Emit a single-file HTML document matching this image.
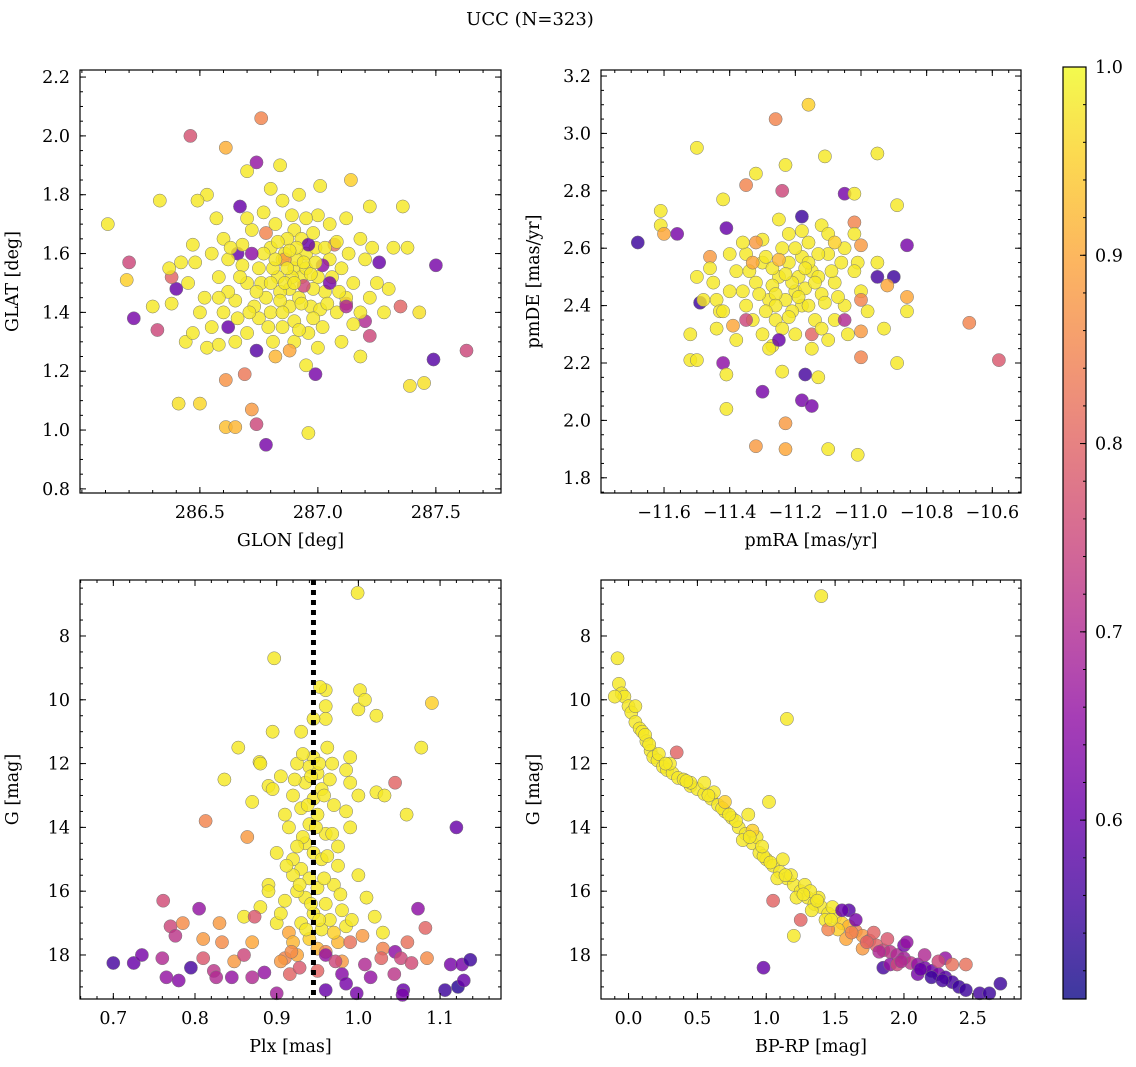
<!DOCTYPE html>
<html><head><meta charset="utf-8">
<style>
html,body{margin:0;padding:0;background:#fff;}
svg{display:block;font-family:"DejaVu Serif","Liberation Serif",serif;}
</style></head>
<body>
<svg id="fig" width="1136" height="1067" viewBox="0 0 1136 1067">
<text x="530" y="25" text-anchor="middle" font-size="18">UCC (N=323)</text>
</svg>
<script>
// ---- data (value, value, membership probability) ----
const glonGlatStars = [
[286.46,2.00,0.77],[286.76,2.06,0.85],[286.61,1.96,0.91],[286.74,1.91,0.66],[286.84,1.90,0.98],[286.70,1.88,0.98],
[286.33,1.78,0.98],[286.11,1.70,0.98],[286.20,1.57,0.75],[286.19,1.51,0.95],[286.22,1.38,0.62],[286.32,1.34,0.75],
[286.41,1.09,0.97],[286.50,1.09,0.96],[286.61,1.17,0.87],[286.69,1.19,0.83],[286.72,1.07,0.88],[286.74,1.02,0.75],
[286.78,0.95,0.62],[286.61,1.01,0.93],[286.65,1.01,0.92],[286.96,0.99,0.98],[286.99,1.19,0.62],[286.74,1.27,0.58],
[286.82,1.25,0.92],[287.63,1.27,0.75],[287.50,1.56,0.62],[287.49,1.24,0.58],[287.39,1.15,0.97],[287.45,1.16,0.97],
[287.43,1.40,0.97],[287.35,1.42,0.80],[287.36,1.76,0.98],[287.38,1.62,0.98],[287.32,1.62,0.98],[287.14,1.85,0.95],
[287.00,1.73,0.98],[287.01,1.83,0.98],[286.53,1.80,0.98],[286.49,1.78,0.98],[286.40,1.48,0.60],[286.38,1.52,0.80],
[286.37,1.55,0.98],[286.38,1.43,0.98],[286.44,1.30,0.98],[286.47,1.33,0.98],[286.30,1.42,0.98],[286.67,1.76,0.60],
[286.66,1.60,0.60],[287.22,1.76,0.98],[287.26,1.57,0.60],[287.20,1.37,0.70],[287.18,1.25,0.98],[287.22,1.32,0.75],
[287.12,1.43,0.75],[287.07,1.63,0.82],[287.12,1.72,0.98],
[286.80,1.62,0.98],[286.85,1.58,0.98],[286.90,1.55,0.98],[286.95,1.60,0.98],[287.00,1.52,0.98],[286.88,1.48,0.98],
[286.92,1.45,0.98],[286.97,1.42,0.98],[287.03,1.47,0.98],[286.83,1.52,0.98],[286.78,1.45,0.98],[286.75,1.55,0.98],
[286.70,1.50,0.98],[286.65,1.44,0.98],[286.60,1.40,0.98],[286.58,1.52,0.98],[286.62,1.58,0.98],[286.68,1.63,0.98],
[286.72,1.68,0.98],[286.82,1.70,0.98],[286.90,1.68,0.98],[286.95,1.72,0.98],[286.87,1.65,0.98],[286.93,1.65,0.98],
[287.05,1.58,0.98],[287.10,1.55,0.98],[287.15,1.50,0.98],[287.12,1.45,0.98],[287.08,1.40,0.98],[287.02,1.35,0.98],
[286.96,1.33,0.98],[286.90,1.37,0.98],[286.85,1.35,0.98],[286.80,1.40,0.98],[286.75,1.38,0.98],[286.70,1.33,0.98],
[286.65,1.30,0.98],[286.55,1.35,0.98],[286.52,1.45,0.98],[286.45,1.50,0.98],[286.48,1.57,0.98],[286.55,1.60,0.98],
[286.60,1.65,0.98],[286.57,1.72,0.98],[286.85,1.78,0.98],[286.80,1.82,0.98],[286.92,1.80,0.98],[287.05,1.70,0.98],
[287.18,1.65,0.98],[287.20,1.58,0.98],[287.25,1.50,0.98],[287.22,1.45,0.98],[287.28,1.40,0.98],[287.18,1.40,0.98],
[287.10,1.30,0.98],[287.00,1.28,0.98],[286.95,1.22,0.98],[286.90,1.30,0.98],[286.88,1.42,0.98],[286.98,1.48,0.98],
[286.93,1.52,0.98],[286.86,1.60,0.98],[286.99,1.62,0.98],[286.77,1.60,0.98],[286.73,1.42,0.98],[286.68,1.56,0.98],
[287.06,1.52,0.98],[287.13,1.60,0.98],[286.62,1.47,0.98],[286.53,1.28,0.98],[286.84,1.47,0.98],[286.91,1.58,0.98],
[287.01,1.41,0.98],[286.95,1.55,0.98],[286.81,1.55,0.98],[286.89,1.52,0.98],[286.76,1.50,0.98],[286.98,1.38,0.98],
[286.70,1.72,0.98],[287.08,1.64,0.98],
[286.96,1.63,0.60],[287.05,1.50,0.62],[286.72,1.60,0.65],[286.88,1.27,0.90],[287.12,1.42,0.70],[286.62,1.35,0.60],
[286.94,1.49,0.75],[286.78,1.67,0.85],[286.86,1.58,0.88],[287.02,1.56,0.65],
[286.83,1.64,0.98],[286.87,1.55,0.98],[286.91,1.62,0.98],[286.94,1.57,0.98],[286.97,1.53,0.98],[286.99,1.57,0.98],
[286.86,1.50,0.98],[286.90,1.50,0.98],[286.84,1.44,0.98],[286.80,1.50,0.98],[286.82,1.58,0.98],[286.88,1.61,0.98],
[286.93,1.43,0.98],[287.04,1.43,0.98],[286.79,1.35,0.98],[286.74,1.47,0.98],[286.67,1.52,0.98],[286.63,1.62,0.98],
[286.71,1.40,0.98],[286.89,1.73,0.98],[286.77,1.74,0.98],[286.58,1.45,0.98],[286.50,1.40,0.98],[286.42,1.57,0.98],
[287.09,1.47,0.98],[287.15,1.36,0.98],[287.23,1.62,0.98],[286.98,1.67,0.98],[286.85,1.40,0.98],[286.92,1.34,0.98],
[286.66,1.38,0.98],[286.58,1.29,0.98],[287.30,1.48,0.98],[286.47,1.63,0.98],[286.81,1.30,0.98],[287.03,1.62,0.98]
];
const pmStars = [
[-11.68,2.62,0.55],[-11.61,2.73,0.98],[-11.61,2.68,0.98],[-11.60,2.65,0.90],[-11.56,2.65,0.62],[-11.50,2.95,0.98],
[-11.52,2.30,0.98],[-11.52,2.21,0.98],[-11.50,2.21,0.98],[-11.49,2.41,0.55],[-11.46,2.57,0.88],[-11.44,2.42,0.98],
[-11.43,2.38,0.98],[-11.42,2.77,0.98],[-11.41,2.67,0.60],[-11.42,2.20,0.65],[-11.41,2.16,0.98],[-11.41,2.04,0.98],
[-11.30,2.10,0.62],[-11.35,2.82,0.85],[-11.32,2.86,0.98],[-11.32,1.91,0.88],[-11.26,3.05,0.85],[-11.23,1.90,0.90],
[-11.23,1.99,0.88],[-11.24,2.17,0.98],[-11.27,2.26,0.98],[-11.23,2.89,0.98],[-11.24,2.80,0.75],[-11.18,2.71,0.55],
[-11.17,2.16,0.56],[-11.18,2.07,0.62],[-11.15,2.05,0.62],[-11.13,2.15,0.98],[-11.16,3.10,0.95],[-11.11,2.92,0.98],
[-11.10,1.90,0.98],[-11.01,1.88,0.98],[-10.95,2.93,0.98],[-11.05,2.79,0.62],[-11.02,2.79,0.98],[-11.02,2.69,0.85],
[-10.89,2.75,0.98],[-10.86,2.61,0.62],[-10.95,2.50,0.56],[-10.90,2.50,0.55],[-10.86,2.43,0.90],[-10.92,2.47,0.90],
[-10.86,2.38,0.98],[-10.93,2.32,0.98],[-10.89,2.20,0.98],[-11.00,2.31,0.88],[-11.00,2.22,0.85],[-10.67,2.34,0.85],
[-10.58,2.21,0.78],[-11.01,2.55,0.98],[-11.00,2.61,0.88],
[-11.20,2.45,0.98],[-11.25,2.50,0.98],[-11.15,2.52,0.98],[-11.22,2.55,0.98],[-11.18,2.40,0.98],[-11.28,2.42,0.98],
[-11.12,2.44,0.98],[-11.30,2.55,0.98],[-11.10,2.58,0.98],[-11.24,2.60,0.98],[-11.16,2.62,0.98],[-11.08,2.48,0.98],
[-11.32,2.48,0.98],[-11.35,2.40,0.98],[-11.26,2.35,0.98],[-11.14,2.35,0.98],[-11.05,2.40,0.98],[-11.02,2.52,0.98],
[-11.38,2.52,0.98],[-11.40,2.45,0.98],[-11.20,2.30,0.98],[-11.30,2.30,0.98],[-11.10,2.28,0.98],[-11.22,2.65,0.98],
[-11.30,2.63,0.98],[-11.12,2.68,0.98],[-11.05,2.60,0.98],[-11.00,2.45,0.98],[-10.98,2.38,0.98],[-11.45,2.48,0.98],
[-11.42,2.38,0.98],[-11.35,2.58,0.98],[-11.25,2.70,0.98],[-11.18,2.57,0.98],[-11.27,2.47,0.98],[-11.13,2.50,0.98],
[-11.19,2.50,0.98],[-11.23,2.42,0.98],[-11.17,2.46,0.98],[-11.33,2.35,0.98],[-11.08,2.35,0.98],[-11.04,2.30,0.98],
[-11.38,2.28,0.98],[-11.28,2.25,0.98],[-11.15,2.25,0.98],[-11.50,2.50,0.98],[-11.48,2.42,0.98],[-11.40,2.58,0.98],
[-11.10,2.65,0.98],[-10.95,2.55,0.98],[-11.21,2.38,0.98],[-11.29,2.57,0.98],[-11.11,2.41,0.98],[-11.26,2.44,0.98],
[-11.16,2.55,0.98],[-11.36,2.45,0.98],[-11.06,2.55,0.98],[-11.44,2.32,0.98],[-11.24,2.32,0.98],[-11.02,2.65,0.98],
[-11.35,2.35,0.75],[-11.25,2.28,0.60],[-11.05,2.35,0.70],[-11.15,2.30,0.80],[-11.32,2.62,0.88],[-11.00,2.42,0.85],
[-11.21,2.48,0.98],[-11.17,2.53,0.98],[-11.23,2.51,0.98],[-11.14,2.48,0.98],[-11.19,2.43,0.98],[-11.26,2.40,0.98],
[-11.20,2.60,0.98],[-11.13,2.58,0.98],[-11.27,2.53,0.98],[-11.09,2.52,0.98],[-11.31,2.44,0.98],[-11.22,2.36,0.98],
[-11.16,2.40,0.98],[-11.12,2.32,0.98],[-11.34,2.52,0.98],[-11.18,2.66,0.98],[-11.07,2.43,0.98],[-11.29,2.38,0.98],
[-11.39,2.33,0.90],[-11.33,2.55,0.90],[-11.08,2.62,0.95],[-11.25,2.56,0.92],[-11.46,2.53,0.98],[-11.36,2.62,0.98]
];
const plxGStars = [
[0.999,6.65,0.98],[0.897,8.70,0.98],[1.090,10.1,0.95],[1.002,9.7,0.98],[1.000,10.3,0.98],[1.008,10.0,0.98],
[1.022,10.5,0.98],[0.853,11.5,0.98],[0.895,11.0,0.98],[1.077,11.5,0.98],[0.879,11.95,0.98],[0.836,12.5,0.98],
[0.890,12.7,0.98],[1.045,12.6,0.80],[1.022,12.9,0.98],[1.032,13.0,0.98],[1.059,13.6,0.98],[1.120,14.0,0.60],
[0.813,13.8,0.85],[0.864,14.3,0.88],
[0.945,11.8,0.98],[0.94,12.1,0.98],[0.95,12.3,0.98],[0.935,12.6,0.98],[0.955,12.8,0.98],[0.945,13.1,0.98],
[0.93,13.4,0.98],[0.95,13.6,0.98],[0.94,13.9,0.98],[0.96,14.2,0.98],[0.935,14.5,0.98],[0.945,14.8,0.98],
[0.955,15.0,0.98],[0.93,15.3,0.98],[0.94,15.6,0.98],[0.95,15.9,0.98],[0.935,16.2,0.98],[0.96,16.4,0.98],
[0.945,16.7,0.98],[0.93,17.0,0.98],[0.955,17.2,0.98],[0.94,17.5,0.95],[0.95,17.8,0.92],[0.925,12.0,0.98],
[0.965,12.5,0.98],[0.92,13.0,0.98],[0.97,13.3,0.98],[0.915,14.0,0.98],[0.975,14.6,0.98],[0.92,15.5,0.98],
[0.97,15.8,0.98],[0.91,16.3,0.98],[0.98,16.6,0.98],[0.90,17.0,0.98],[0.985,17.1,0.98],[0.905,12.4,0.98],
[0.985,12.2,0.98],[0.90,14.8,0.98],[0.99,14.0,0.98],[0.89,15.8,0.98],[1.00,15.5,0.98],[0.88,16.5,0.98],
[1.01,16.2,0.98],[0.87,13.2,0.98],[1.00,13.0,0.98],[0.88,12.0,0.98],[0.99,11.8,0.98],[0.96,10.6,0.98],
[0.93,11.0,0.98],[0.89,16.0,0.98],[1.02,16.8,0.98],[0.86,16.8,0.98],[1.03,17.3,0.98],[0.87,17.6,0.90],
[0.96,17.9,0.85],[0.91,18.1,0.85],[0.98,18.2,0.88],[0.95,18.5,0.80],[0.92,15.0,0.98],[0.975,15.2,0.98],
[0.91,13.6,0.98],[0.985,13.5,0.98],[0.895,12.8,0.98],[0.99,12.6,0.98],[0.96,9.7,0.98],[0.953,9.6,0.98],
[0.96,10.2,0.98],[0.945,10.6,0.98],[0.925,16.0,0.98],[0.965,16.9,0.98],[0.915,17.3,0.90],[0.975,17.6,0.92],
[0.942,12.4,0.98],[0.952,12.0,0.98],[0.938,13.3,0.98],[0.958,13.0,0.98],[0.948,14.0,0.98],[0.932,14.3,0.98],
[0.962,14.9,0.98],[0.928,15.8,0.98],[0.958,15.6,0.98],[0.942,16.4,0.98],[0.952,16.9,0.98],[0.936,17.2,0.98],
[0.968,12.0,0.98],[0.922,12.5,0.98],[0.925,14.6,0.98],[0.968,14.2,0.98],[0.912,15.2,0.98],[0.978,16.1,0.98],
[0.905,16.7,0.98],[0.992,16.9,0.98],[0.962,11.5,0.98],[0.932,11.7,0.98],[0.97,17.3,0.95],[0.92,17.6,0.92],
[0.700,18.25,0.56],[0.725,18.25,0.60],[0.735,18.0,0.62],[0.760,18.1,0.70],[0.761,16.3,0.76],[0.770,17.1,0.75],
[0.776,17.4,0.72],[0.765,18.7,0.66],[0.780,18.8,0.64],[0.795,18.4,0.56],[0.785,17.0,0.86],[0.805,16.55,0.66],
[0.810,17.5,0.88],[0.810,18.1,0.78],[0.823,18.5,0.72],[0.826,18.7,0.70],[0.845,18.7,0.66],[0.830,17.0,0.88],
[0.870,18.7,0.70],[0.885,18.55,0.66],[0.900,19.2,0.68],[0.905,18.2,0.88],[0.873,16.8,0.78],[0.916,18.6,0.80],
[0.925,18.0,0.90],[0.918,17.9,0.86],[0.928,18.4,0.78],[0.960,18.0,0.66],[0.972,18.2,0.75],[0.980,18.6,0.64],
[0.960,19.1,0.60],[0.998,19.2,0.62],[0.985,18.9,0.62],[1.005,17.4,0.88],[1.030,17.8,0.85],[1.028,18.1,0.80],
[1.045,17.9,0.65],[1.052,18.1,0.75],[1.044,18.6,0.72],[1.065,18.25,0.76],[1.084,18.1,0.86],[1.073,16.55,0.65],
[1.082,17.15,0.80],[1.055,19.1,0.60],[1.054,19.25,0.62],[1.106,19.1,0.55],[1.122,19.0,0.53],[1.113,18.3,0.62],
[1.127,18.3,0.62],[1.137,18.15,0.55],[1.129,18.8,0.60],[1.008,18.3,0.70],[0.990,17.6,0.82],[0.848,18.2,0.88],
[0.833,17.6,0.86],[0.860,18.0,0.75],[1.015,18.7,0.66],[1.060,17.6,0.82]
];
const cmdStars = [
[1.40,6.75,0.98],[-0.08,8.7,0.98],[-0.07,9.5,0.98],[-0.05,9.8,0.98],[-0.03,9.9,0.98],[0.00,10.2,0.98],
[0.02,10.4,0.98],[0.05,10.7,0.98],[0.08,10.9,0.98],[0.10,11.0,0.98],[0.13,11.3,0.98],[0.16,11.6,0.98],
[0.18,11.8,0.98],[0.21,11.9,0.98],[0.25,12.1,0.98],[0.28,12.2,0.98],[0.32,12.3,0.98],[0.36,12.45,0.98],
[0.40,12.5,0.98],[0.45,12.7,0.98],[0.50,12.8,0.98],[0.55,12.95,0.98],[0.60,13.1,0.98],[0.65,13.3,0.98],
[0.70,13.5,0.98],[0.75,13.7,0.98],[0.80,14.0,0.98],[0.85,14.2,0.98],[0.90,14.5,0.98],[0.95,14.8,0.98],
[1.00,15.0,0.98],[1.05,15.2,0.98],[1.10,15.4,0.98],[1.15,15.6,0.98],[1.20,15.8,0.98],[1.25,16.0,0.98],
[1.30,16.2,0.98],[1.35,16.4,0.98],[1.40,16.5,0.98],[1.45,16.7,0.98],[1.50,16.8,0.98],[1.55,17.0,0.95],
[1.60,17.1,0.92],[1.65,17.25,0.85],[1.70,17.4,0.88],[1.75,17.55,0.80],[1.80,17.7,0.80],[1.85,17.85,0.75],
[1.90,17.9,0.72],[1.95,18.0,0.70],[2.00,18.1,0.68],[2.05,18.25,0.72],[2.10,18.3,0.66],[2.15,18.4,0.62],
[2.20,18.5,0.60],[2.25,18.6,0.62],[2.30,18.7,0.58],[2.35,18.85,0.56],[2.40,19.0,0.55],[2.45,19.1,0.55],
[2.55,19.2,0.56],[2.62,19.2,0.55],[2.70,18.9,0.55],[2.45,18.3,0.82],[2.30,18.1,0.66],[2.20,18.7,0.55],
[2.00,17.7,0.62],[1.85,18.4,0.56],[1.60,16.6,0.58],[1.65,16.9,0.62],[1.90,18.3,0.66],[2.10,18.6,0.62],
[-0.10,9.9,0.98],[0.05,10.2,0.98],[0.12,11.1,0.98],[0.22,11.7,0.98],[0.30,12.0,0.98],[0.35,11.65,0.80],
[0.45,12.6,0.98],[0.55,12.6,0.98],[0.62,12.9,0.98],[0.68,13.4,0.98],[0.78,13.8,0.98],[0.83,14.4,0.98],
[0.87,13.6,0.98],[0.93,14.3,0.98],[0.98,14.9,0.98],[1.02,13.2,0.98],[1.15,10.6,0.98],[1.08,15.6,0.98],
[1.18,15.5,0.98],[1.22,16.2,0.98],[1.28,15.8,0.98],[1.33,16.6,0.98],[1.38,16.2,0.98],[1.43,16.9,0.98],
[1.48,16.5,0.98],[1.52,17.2,0.95],[1.20,17.4,0.98],[0.98,18.4,0.60],[1.05,16.3,0.80],[1.25,16.9,0.80],
[1.45,17.2,0.85],[1.58,17.5,0.90],[1.70,17.8,0.88],[1.78,17.3,0.80],[1.88,17.5,0.78],[1.95,18.3,0.75],
[2.02,17.6,0.66],[2.15,18.0,0.70],[2.25,18.2,0.75],[2.35,18.3,0.82],[0.70,13.2,0.95],[0.90,14.1,0.95],
[1.12,15.0,0.98],[1.32,16.0,0.98],[1.55,16.6,0.60],
[0.15,11.4,0.98],[0.27,12.0,0.98],[0.42,12.55,0.98],[0.58,13.0,0.98],[0.73,13.6,0.98],[0.88,14.3,0.98],
[0.97,14.6,0.98],[1.03,15.1,0.98],[1.14,15.5,0.98],[1.27,16.1,0.98],[1.37,16.3,0.98],[1.47,16.9,0.98],
[1.62,17.3,0.85],[1.73,17.6,0.80],[1.82,17.9,0.70],[1.98,18.2,0.70],[2.12,18.45,0.60],[2.28,18.8,0.56]
];
const cbarTicks = [0.6,0.7,0.8,0.9,1.0];
const cbarTickLabels = ["0.6","0.7","0.8","0.9","1.0"];

// ---- rendering ----
const NS = "http://www.w3.org/2000/svg";
const svg = document.getElementById('fig');
const CMIN = 0.505, CMAX = 1.0;
const plasma = ["#0d0887","#41049d","#6a00a8","#8f0da4","#b12a90","#cc4778","#e16462","#f2844b","#fca636","#fcce25","#f0f921"];
function hex(h){return [parseInt(h.substr(1,2),16),parseInt(h.substr(3,2),16),parseInt(h.substr(5,2),16)];}
function cmap(v){
  let t=(v-CMIN)/(CMAX-CMIN); t=Math.max(0,Math.min(1,t));
  const f=t*10, i=Math.min(9,Math.floor(f)), r=f-i;
  const a=hex(plasma[i]), b=hex(plasma[i+1]);
  return "rgb("+a.map((x,k)=>Math.round(x+(b[k]-x)*r)).join(",")+")";
}
function mk(tag, attrs, parent){
  const e=document.createElementNS(NS,tag);
  for(const k in attrs) e.setAttribute(k,attrs[k]);
  (parent||svg).appendChild(e); return e;
}
function fmt(v,d){return (v<0?"\u2212":"")+Math.abs(v).toFixed(d);}
const FS = 17.5;

const panels = [
 {name:"sky", data:glonGlatStars, px:[80,501], py:[70,493], xd:[285.992,287.776], yd:[2.224,0.786],
  xMaj:[286.5,287.0,287.5], xMin:0.1, xDec:1, yMaj:[0.8,1.0,1.2,1.4,1.6,1.8,2.0,2.2], yMin:0.05, yDec:1,
  xl:"GLON [deg]", yl:"GLAT [deg]"},
 {name:"proper-motion", data:pmStars, px:[601,1021], py:[70,493], xd:[-11.792,-10.5126], yd:[3.221,1.747],
  xMaj:[-11.6,-11.4,-11.2,-11.0,-10.8,-10.6], xMin:0.05, xDec:1, yMaj:[1.8,2.0,2.2,2.4,2.6,2.8,3.0,3.2], yMin:0.05, yDec:1,
  xl:"pmRA [mas/yr]", yl:"pmDE [mas/yr]"},
 {name:"parallax-magnitude", data:plxGStars, px:[80,501], py:[580,999], xd:[0.6592,1.1746], yd:[6.245,19.38],
  xMaj:[0.7,0.8,0.9,1.0,1.1], xMin:0.02, xDec:1, yMaj:[8,10,12,14,16,18], yMin:0.5, yDec:0,
  xl:"Plx [mas]", yl:"G [mag]", vline:0.945},
 {name:"color-magnitude", data:cmdStars, px:[601,1021], py:[580,999], xd:[-0.2, 2.8499], yd:[6.245,19.38],
  xMaj:[0.0,0.5,1.0,1.5,2.0,2.5], xMin:0.1, xDec:1, yMaj:[8,10,12,14,16,18], yMin:0.5, yDec:0,
  xl:"BP-RP [mag]", yl:"G [mag]"}
];

panels.forEach(p=>{
  const sx=v=>p.px[0]+(v-p.xd[0])/(p.xd[1]-p.xd[0])*(p.px[1]-p.px[0]);
  const sy=v=>p.py[0]+(v-p.yd[0])/(p.yd[1]-p.yd[0])*(p.py[1]-p.py[0]);
  const g=mk('g',{});
  
  
  const pts=mk('g',{},g);
  
  
  p.data.forEach(d=>{
    const x=sx(d[0]), y=sy(d[1]);
    if(x<p.px[0]||x>p.px[1]||y<p.py[0]||y>p.py[1]) return;
    const c=mk('circle',{cx:x.toFixed(1),cy:y.toFixed(1),r:6.6,fill:cmap(d[2]),'fill-opacity':0.82,stroke:'#777','stroke-width':0.5},pts);
    
    
  });
  if(p.vline!==undefined){
    const l=mk('line',{x1:sx(p.vline),x2:sx(p.vline),y1:p.py[0],y2:p.py[1],stroke:'#000','stroke-width':5,'stroke-dasharray':'5,5'},g);
    
    
  }
  const fr=mk('rect',{x:p.px[0],y:p.py[0],width:p.px[1]-p.px[0],height:p.py[1]-p.py[0],fill:'none',stroke:'#000','stroke-width':1.2},g);
  
  
  const tk=mk('g',{stroke:'#000','stroke-width':1},g);
  const xlo=Math.min(...p.xd), xhi=Math.max(...p.xd);
  for(let v=Math.ceil(xlo/p.xMin)*p.xMin; v<=xhi; v+=p.xMin){
    const x=sx(v); mk('line',{x1:x,x2:x,y1:p.py[1],y2:p.py[1]-3},tk); mk('line',{x1:x,x2:x,y1:p.py[0],y2:p.py[0]+3},tk);
  }
  p.xMaj.forEach(v=>{
    const x=sx(v); mk('line',{x1:x,x2:x,y1:p.py[1],y2:p.py[1]-6},tk); mk('line',{x1:x,x2:x,y1:p.py[0],y2:p.py[0]+6},tk);
    const t=mk('text',{x:x,y:p.py[1]+25,'text-anchor':'middle','font-size':FS},g); t.textContent=fmt(v,p.xDec);
    
    
  });
  const ylo=Math.min(...p.yd), yhi=Math.max(...p.yd);
  for(let v=Math.ceil(ylo/p.yMin)*p.yMin; v<=yhi; v+=p.yMin){
    const y=sy(v); mk('line',{x1:p.px[0],x2:p.px[0]+3,y1:y,y2:y},tk); mk('line',{x1:p.px[1],x2:p.px[1]-3,y1:y,y2:y},tk);
  }
  p.yMaj.forEach(v=>{
    const y=sy(v); if(y<p.py[0]-1||y>p.py[1]+1) return;
    mk('line',{x1:p.px[0],x2:p.px[0]+6,y1:y,y2:y},tk); mk('line',{x1:p.px[1],x2:p.px[1]-6,y1:y,y2:y},tk);
    const t=mk('text',{x:p.px[0]-10,y:y+6,'text-anchor':'end','font-size':FS},g); t.textContent=fmt(v,p.yDec);
    
    
  });
  const xt=mk('text',{x:(p.px[0]+p.px[1])/2,y:p.py[1]+53,'text-anchor':'middle','font-size':FS},g); xt.textContent=p.xl;
  
  
  const cx=p.px[0]-62, cy=(p.py[0]+p.py[1])/2;
  const yt=mk('text',{x:cx,y:cy,'text-anchor':'middle','font-size':FS,transform:'rotate(-90 '+cx+' '+cy+')'},g); yt.textContent=p.yl;
  
  
});

// colorbar
const cb={x:1063,w:23,y0:67,y1:999};
const cbg=mk('g',{});


const defs=mk('defs',{});
const grad=mk('linearGradient',{id:'cg',x1:0,y1:1,x2:0,y2:0},defs);
for(let i=0;i<=20;i++){ const t=i/20; mk('stop',{offset:t,'stop-color':cmap(CMIN+t*(CMAX-CMIN)),'stop-opacity':0.8},grad); }
mk('rect',{x:cb.x,y:cb.y0,width:cb.w,height:cb.y1-cb.y0,fill:'url(#cg)',stroke:'#000','stroke-width':1.2},cbg);
const cy2=v=>cb.y1-(v-CMIN)/(CMAX-CMIN)*(cb.y1-cb.y0);
for(let v=0.52; v<=1.0001; v+=0.02){ const y=cy2(v); mk('line',{x1:cb.x+cb.w,x2:cb.x+cb.w-3,y1:y,y2:y,stroke:'#000'},cbg); }
cbarTicks.forEach((v,i)=>{
  const y=cy2(v); mk('line',{x1:cb.x+cb.w,x2:cb.x+cb.w-6,y1:y,y2:y,stroke:'#000'},cbg);
  const t=mk('text',{x:cb.x+cb.w+9,y:y+6,'font-size':FS},cbg); t.textContent=cbarTickLabels[i];
  
  
});
</script>
</body></html>
